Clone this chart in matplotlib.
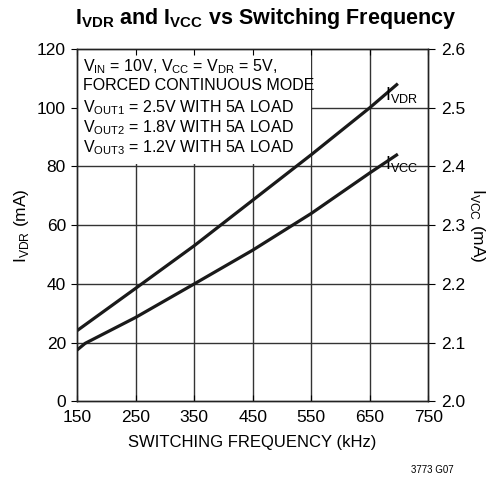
import matplotlib
matplotlib.use("Agg")
import matplotlib.pyplot as plt
from matplotlib.patches import Rectangle

plt.rcParams['font.family'] = ['Liberation Sans Narrow', 'Liberation Sans', 'DejaVu Sans']
plt.rcParams['mathtext.fontset'] = 'custom'
plt.rcParams['mathtext.rm'] = 'Liberation Sans'

# data
freq_vdr = [150, 250, 350, 450, 550, 650, 698]
i_vdr = [24.1, 38.5, 53.0, 68.5, 84.0, 100.0, 108.2]

freq_vcc = [150, 164, 250, 350, 450, 550, 650, 698]
i_vcc = [2.0875, 2.099, 2.143, 2.200, 2.2575, 2.320, 2.389, 2.421]

x_ticks = [150, 250, 350, 450, 550, 650, 750]
left_ticks = [0, 20, 40, 60, 80, 100, 120]
right_ticks = [2.0, 2.1, 2.2, 2.3, 2.4, 2.5, 2.6]

note_lines = [
    r'V$_{\mathregular{IN}}$ = 10V, V$_{\mathregular{CC}}$ = V$_{\mathregular{DR}}$ = 5V,',
    'FORCED CONTINUOUS MODE',
    r'V$_{\mathregular{OUT1}}$ = 2.5V WITH 5A LOAD',
    r'V$_{\mathregular{OUT2}}$ = 1.8V WITH 5A LOAD',
    r'V$_{\mathregular{OUT3}}$ = 1.2V WITH 5A LOAD',
]

fig = plt.figure(figsize=(4.88, 4.84), dpi=100)
ax = fig.add_axes([0.1578, 0.1705, 0.7199, 0.7283])
ax2 = ax.twinx()

ax.set_xlim(150, 750)
ax.set_ylim(0, 120)
ax2.set_ylim(2.0, 2.6)
ax.set_xticks(x_ticks)
ax.set_yticks(left_ticks)
ax2.set_yticks(right_ticks)
ax2.set_yticklabels([f'{v:.1f}' for v in right_ticks])

grid_col = '#333333'
for xv in x_ticks[1:-1]:
    ax.axvline(xv, color=grid_col, lw=1.0, zorder=0.5)
for yv in left_ticks[1:-1]:
    ax.axhline(yv, color=grid_col, lw=1.0, zorder=0.5)

# white backing behind the conditions note
ax.add_patch(Rectangle((150, 81), 400, 39, facecolor='white', edgecolor='none', zorder=1))

for i, line in enumerate(note_lines):
    ax.text(0.018, 0.975 - i * 0.057, line, transform=ax.transAxes,
            fontsize=11.5, va='top', ha='left', zorder=2)

ax.plot(freq_vdr, i_vdr, color='#1a1a1a', lw=2.3, zorder=3, solid_capstyle='butt')
ax2.plot(freq_vcc, i_vcc, color='#1a1a1a', lw=2.3, zorder=3, solid_capstyle='butt')

ax.text(0.925, 0.87, r'I$_{\mathregular{VDR}}$', transform=ax.transAxes, fontsize=13, ha='center', va='center')
ax.text(0.925, 0.675, r'I$_{\mathregular{VCC}}$', transform=ax.transAxes, fontsize=13, ha='center', va='center')

for a in (ax, ax2):
    for s in a.spines.values():
        s.set_linewidth(1.0)
        s.set_color('#222222')

ax.tick_params(axis='y', direction='out', length=4, labelsize=12.5, pad=4)
ax.tick_params(axis='x', direction='in', length=4, labelsize=12.5, pad=6, top=True)
ax2.tick_params(axis='y', direction='out', length=5, labelsize=12.5, pad=4)

ax.set_xlabel('SWITCHING FREQUENCY (kHz)', fontsize=12, labelpad=7)
ax.set_ylabel(r'I$_{\mathregular{VDR}}$ (mA)', fontsize=12.5, labelpad=4)
ax2.set_ylabel(r'I$_{\mathregular{VCC}}$ (mA)', fontsize=12.5, rotation=270, labelpad=16)

fig.text(0.545, 0.962, r'I$_{\mathregular{VDR}}$ and I$_{\mathregular{VCC}}$ vs Switching Frequency',
         fontsize=15.5, fontweight='bold', ha='center', va='center')
fig.text(0.885, 0.018, '3773 G07', fontsize=7, ha='center', va='bottom')

fig.savefig('out.png', dpi=100)
